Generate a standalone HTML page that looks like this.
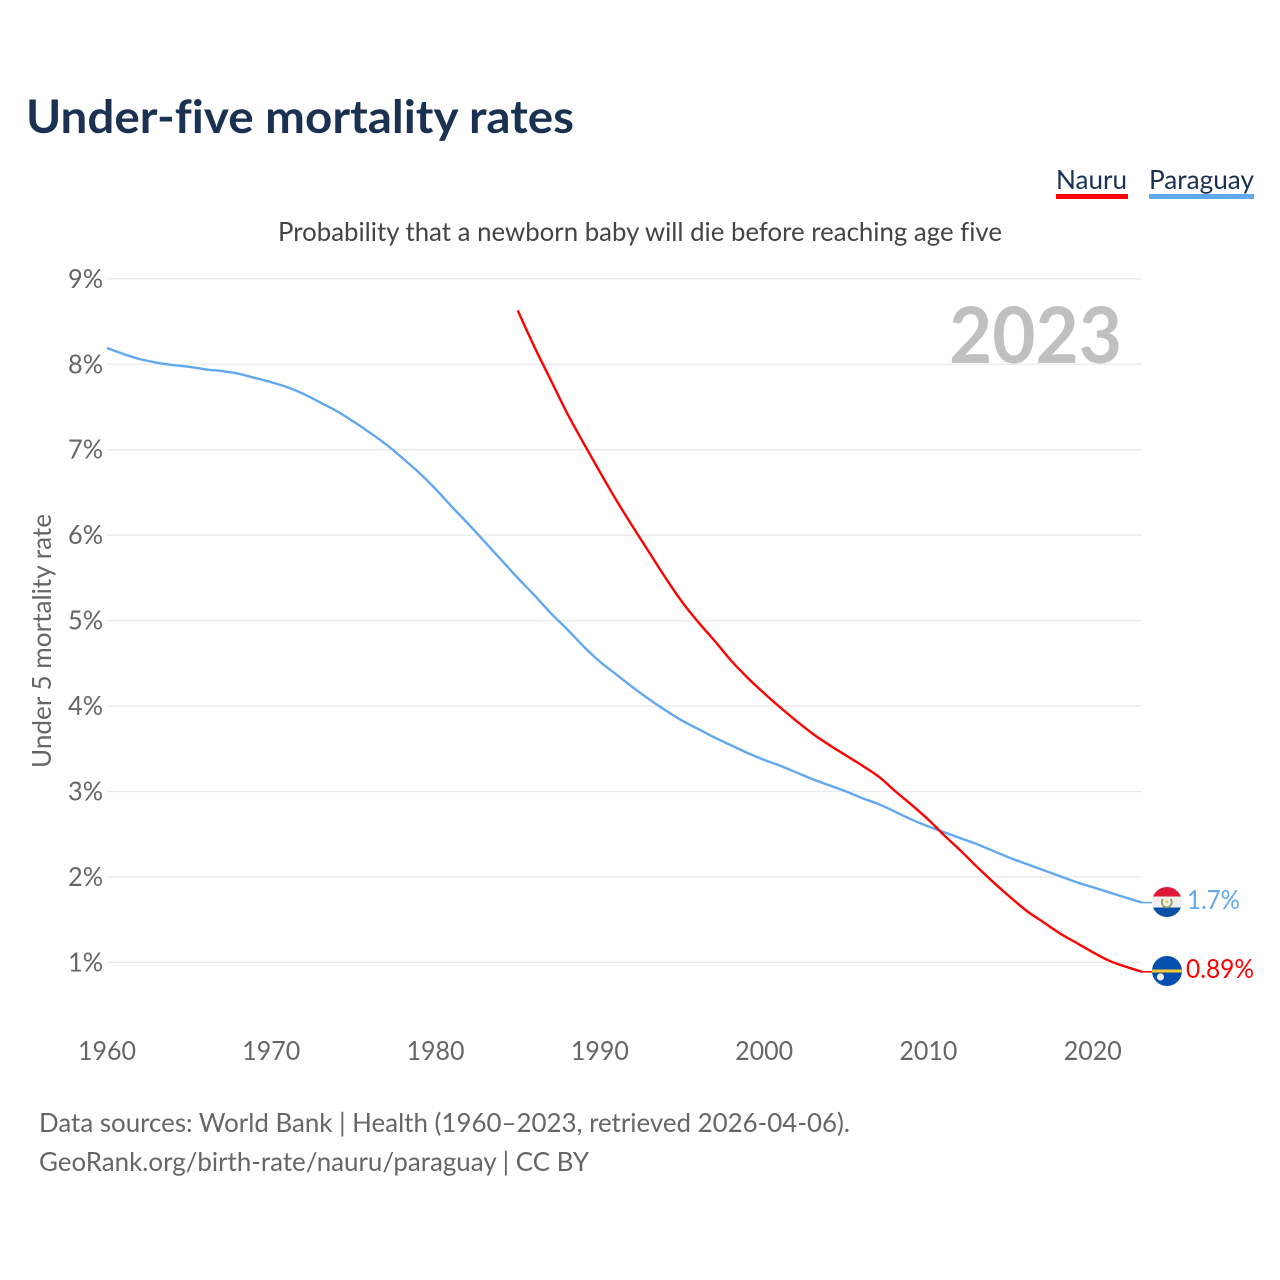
<!DOCTYPE html>
<html lang="en">
<head>
<meta charset="utf-8">
<title>Under-five mortality rates</title>
<style>
html,body{margin:0;padding:0;background:#fff;}
svg{display:block;}
text{font-family:"Lato","Carlito","Liberation Sans",sans-serif;font-variant-ligatures:none;}
</style>
</head>
<body>
<svg id="chart" xmlns="http://www.w3.org/2000/svg" width="1280" height="1280" viewBox="0 0 1280 1280">
  <defs>
    <clipPath id="clip-py"><circle cx="1167" cy="902" r="15"/></clipPath>
    <clipPath id="clip-nr"><circle cx="1167" cy="971" r="15"/></clipPath>
  </defs>
  <rect x="0" y="0" width="1280" height="1280" fill="#fff"/>
  <text x="26" y="133" font-size="46" font-weight="700" fill="#1a3152" textLength="548" lengthAdjust="spacingAndGlyphs">Under-five mortality rates</text>
  <g>
    <text x="1056" y="189" font-size="26.5" fill="#1a3152" textLength="71" lengthAdjust="spacingAndGlyphs">Nauru</text>
    <rect x="1056" y="194" width="72" height="5" fill="#ff0000"/>
  </g>
  <g>
    <text x="1149" y="189" font-size="26.5" fill="#1a3152" textLength="105" lengthAdjust="spacingAndGlyphs">Paraguay</text>
    <rect x="1149" y="194" width="105" height="5" fill="#62a8f0"/>
  </g>
  <text x="278" y="241" font-size="26.5" fill="#444" textLength="724" lengthAdjust="spacingAndGlyphs">Probability that a newborn baby will die before reaching age five</text>
  <g id="grid"></g>
  <g id="yticks"></g>
  <g id="xticks"></g>
  <text transform="translate(51,768) rotate(-90)" font-size="26.5" fill="#666" textLength="254" lengthAdjust="spacingAndGlyphs">Under 5 mortality rate</text>
  <text x="949" y="363" font-size="78" font-weight="700" fill="#c0c0c0" textLength="173" lengthAdjust="spacingAndGlyphs">2023</text>
  <g id="series"></g>
  <g clip-path="url(#clip-py)">
    <rect x="1152" y="887" width="30" height="9.5" fill="#dc1a38"/>
    <rect x="1152" y="896.5" width="30" height="11" fill="#efefef"/>
    <rect x="1152" y="907.5" width="30" height="10" fill="#0a50a8"/>
    <path d="M1163 899 A5 5 0 1 0 1170.6 899" fill="none" stroke="#8fa858" stroke-width="1.8"/>
    <circle cx="1167" cy="901.5" r="1.4" fill="#f0c840"/>
  </g>
  <g clip-path="url(#clip-nr)">
    <rect x="1152" y="956" width="30" height="31" fill="#0550ae"/>
    <rect x="1152" y="969.5" width="30" height="3" fill="#f6c830"/>
    <circle cx="1160.5" cy="977" r="3.6" fill="#f2f2f2"/>
  </g>
  <text id="label-py" x="1187" y="909" font-size="26.5" fill="#62a8f0" textLength="53" lengthAdjust="spacingAndGlyphs">1.7%</text>
  <text id="label-nr" x="1186" y="978" font-size="26.5" fill="#ff0000" textLength="68" lengthAdjust="spacingAndGlyphs">0.89%</text>
  <text x="39" y="1132" font-size="26.5" fill="#666" textLength="811" lengthAdjust="spacingAndGlyphs">Data sources: World Bank | Health (1960–2023, retrieved 2026-04-06).</text>
  <text x="39" y="1171" font-size="26.5" fill="#666" textLength="550" lengthAdjust="spacingAndGlyphs">GeoRank.org/birth-rate/nauru/paraguay | CC BY</text>
</svg>
<script>
const yTickValues = [1, 2, 3, 4, 5, 6, 7, 8, 9];
const xTickYears = [1960, 1970, 1980, 1990, 2000, 2010, 2020];
const paraguayStartYear = 1960;
const paraguayValues = [
  8.19,8.12,8.06,8.02,7.99,7.97,7.94,7.92,7.89,7.84,
  7.79,7.73,7.65,7.55,7.45,7.33,7.20,7.06,6.90,6.73,
  6.54,6.33,6.13,5.92,5.71,5.50,5.30,5.09,4.90,4.70,
  4.52,4.37,4.22,4.08,3.95,3.83,3.73,3.63,3.54,3.45,
  3.37,3.30,3.22,3.14,3.07,3.00,2.92,2.85,2.76,2.67,
  2.59,2.52,2.45,2.38,2.30,2.22,2.15,2.08,2.01,1.94,
  1.88,1.82,1.76,1.70];
const nauruStartYear = 1985;
const nauruValues = [
  8.63,8.21,7.82,7.43,7.08,
  6.74,6.41,6.10,5.80,5.50,5.22,4.98,4.76,4.53,4.33,
  4.15,3.98,3.82,3.67,3.54,3.42,3.30,3.17,3.00,2.84,
  2.67,2.48,2.30,2.11,1.93,1.76,1.60,1.47,1.34,1.23,
  1.12,1.02,0.95,0.89];

const NS = 'http://www.w3.org/2000/svg';
function xScale(year) { return 107 + (year - 1960) * (1142 - 107) / 63; }
function yScale(v) { return 962.4 - (v - 1) * 85.45; }

const grid = document.getElementById('grid');
const yticks = document.getElementById('yticks');
const xticks = document.getElementById('xticks');
const series = document.getElementById('series');

yTickValues.forEach(function (v) {
  const line = document.createElementNS(NS, 'line');
  
  
  line.setAttribute('x1', 107);
  line.setAttribute('x2', 1142);
  line.setAttribute('y1', yScale(v));
  line.setAttribute('y2', yScale(v));
  line.setAttribute('stroke', '#e9e9e9');
  line.setAttribute('stroke-width', '1.3');
  grid.appendChild(line);
  const t = document.createElementNS(NS, 'text');
  
  
  t.setAttribute('x', 103);
  t.setAttribute('y', yScale(v) + 9);
  t.setAttribute('text-anchor', 'end');
  t.setAttribute('font-size', '26.5');
  t.setAttribute('fill', '#666');
  t.setAttribute('textLength', '35');
  t.setAttribute('lengthAdjust', 'spacingAndGlyphs');
  t.textContent = v + '%';
  yticks.appendChild(t);
});

xTickYears.forEach(function (y) {
  const t = document.createElementNS(NS, 'text');
  
  
  t.setAttribute('x', xScale(y));
  t.setAttribute('y', 1060);
  t.setAttribute('text-anchor', 'middle');
  t.setAttribute('font-size', '26.5');
  t.setAttribute('fill', '#666');
  t.setAttribute('textLength', '58');
  t.setAttribute('lengthAdjust', 'spacingAndGlyphs');
  t.textContent = y;
  xticks.appendChild(t);
});

function drawLine(startYear, values, color, name) {
  const pts = values.map(function (v, i) { return [xScale(startYear + i), yScale(v)]; });
  let d = 'M' + pts[0][0].toFixed(2) + ' ' + pts[0][1].toFixed(2);
  for (let i = 0; i < pts.length - 1; i++) {
    const p0 = pts[Math.max(i - 1, 0)];
    const p1 = pts[i];
    const p2 = pts[i + 1];
    const p3 = pts[Math.min(i + 2, pts.length - 1)];
    const c1x = p1[0] + (p2[0] - p0[0]) / 6;
    const c1y = p1[1] + (p2[1] - p0[1]) / 6;
    const c2x = p2[0] - (p3[0] - p1[0]) / 6;
    const c2y = p2[1] - (p3[1] - p1[1]) / 6;
    d += ' C' + c1x.toFixed(2) + ' ' + c1y.toFixed(2) + ' ' + c2x.toFixed(2) + ' ' + c2y.toFixed(2) + ' ' + p2[0].toFixed(2) + ' ' + p2[1].toFixed(2);
  }
  const p = document.createElementNS(NS, 'path');
  
  
  p.setAttribute('d', d);
  p.setAttribute('fill', 'none');
  p.setAttribute('stroke', color);
  p.setAttribute('stroke-width', '2.4');
  p.setAttribute('stroke-linejoin', 'round');
  series.appendChild(p);
  const end = pts[pts.length - 1];
  const tail = document.createElementNS(NS, 'line');
  
  
  tail.setAttribute('x1', end[0]);
  tail.setAttribute('x2', 1152);
  tail.setAttribute('y1', end[1]);
  tail.setAttribute('y2', end[1]);
  tail.setAttribute('stroke', color);
  tail.setAttribute('stroke-width', '1.5');
  series.appendChild(tail);
}
drawLine(paraguayStartYear, paraguayValues, '#62a8f0', 'line-paraguay');
drawLine(nauruStartYear, nauruValues, '#ff0000', 'line-nauru');
</script>
</body>
</html>
